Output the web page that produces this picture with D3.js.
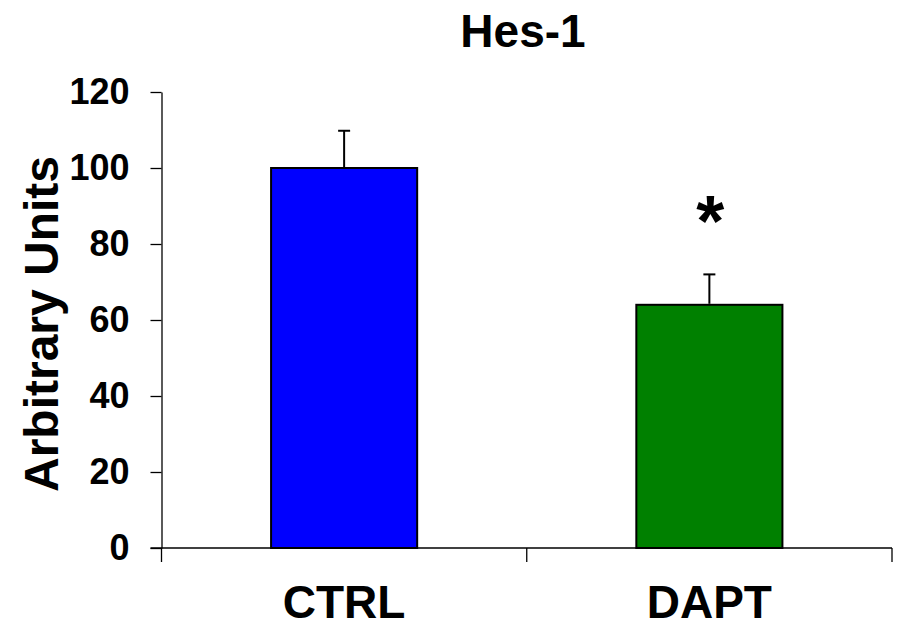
<!DOCTYPE html>
<html>
<head>
<meta charset="utf-8">
<script src="https://cdn.jsdelivr.net/npm/d3@7/dist/d3.min.js"></script>
<style>
	body { margin: 0; background: #fff; }
	text { font-family: Arial, "Liberation Sans", sans-serif; font-weight: bold; fill: #000; }
</style>
</head>
<body>
<svg id="chart" width="901" height="630"></svg>
<script>
var categories = ["CTRL", "DAPT"],
	means = [100, 64],
	errors = [9.8, 8],
	barColors = ["#0000ff", "#008000"],
	yTicks = [0, 20, 40, 60, 80, 100, 120],
	significant = [false, true];

var svg = d3.select("#chart"),
	margin = {top: 92, right: 9, bottom: 82, left: 161.5},
	width = 901 - margin.left - margin.right,
	height = 630 - margin.top - margin.bottom;

var x = d3.scaleBand()
	.domain(categories)
	.range([0, width])
	.padding(0);

var y = d3.scaleLinear()
	.domain([0, 120])
	.range([height, 0]);

var g = svg.append("g").attr("transform", "translate(" + margin.left + "," + margin.top + ")");

// y axis
var yAxis = d3.axisLeft(y)
	.tickValues(yTicks)
	.tickSize(11)
	.tickPadding(21)
	.tickSizeOuter(0);

var gY = g.append("g").attr("class", "axis y").call(yAxis);
gY.select(".domain").attr("stroke", "#000").attr("stroke-width", 1.3);
gY.selectAll(".tick line").attr("stroke", "#000").attr("stroke-width", 1.3);
gY.selectAll(".tick text")
	.style("font-size", "36px")
	.style("font-family", "Arial, 'Liberation Sans', sans-serif")
	.style("font-weight", "bold")
	.attr("fill", "#000");

// x axis, ticks between the categories
var xBounds = [0, width / 2, width];
var gX = g.append("g").attr("class", "axis x").attr("transform", "translate(0," + height + ")");
gX.append("line")
	.attr("x1", -11).attr("x2", width)
	.attr("stroke", "#000").attr("stroke-width", 1.3);
gX.selectAll(".xtick")
	.data(xBounds)
	.enter().append("line")
	.attr("class", "xtick")
	.attr("x1", function(d) { return d; })
	.attr("x2", function(d) { return d; })
	.attr("y1", 0).attr("y2", 14)
	.attr("stroke", "#000").attr("stroke-width", 1.3);
gX.selectAll(".xlabel")
	.data(categories)
	.enter().append("text")
	.attr("class", "xlabel")
	.attr("x", function(d) { return x(d) + x.bandwidth() / 2; })
	.attr("y", 70)
	.attr("text-anchor", "middle")
	.style("font-size", "46px")
	.text(function(d) { return d; });

// bars
var barW = x.bandwidth() * 0.4;
g.selectAll(".bar")
	.data(categories)
	.enter().append("rect")
	.attr("class", "bar")
	.attr("x", function(d) { return x(d) + (x.bandwidth() - barW) / 2; })
	.attr("y", function(d, i) { return y(means[i]); })
	.attr("width", barW)
	.attr("height", function(d, i) { return height - y(means[i]); })
	.attr("fill", function(d, i) { return barColors[i]; })
	.attr("stroke", "#000")
	.attr("stroke-width", 2);

// error bars (upper only)
var err = g.selectAll(".err")
	.data(categories)
	.enter().append("g")
	.attr("class", "err");
err.append("line")
	.attr("x1", function(d) { return x(d) + x.bandwidth() / 2; })
	.attr("x2", function(d) { return x(d) + x.bandwidth() / 2; })
	.attr("y1", function(d, i) { return y(means[i]) - 1; })
	.attr("y2", function(d, i) { return y(means[i] + errors[i]); })
	.attr("stroke", "#000").attr("stroke-width", 2);
err.append("line")
	.attr("x1", function(d) { return x(d) + x.bandwidth() / 2 - 6; })
	.attr("x2", function(d) { return x(d) + x.bandwidth() / 2 + 6; })
	.attr("y1", function(d, i) { return y(means[i] + errors[i]); })
	.attr("y2", function(d, i) { return y(means[i] + errors[i]); })
	.attr("stroke", "#000").attr("stroke-width", 2);

// significance star
g.selectAll(".star")
	.data(categories.filter(function(d, i) { return significant[i]; }))
	.enter().append("text")
	.attr("class", "star")
	.attr("x", function(d) { return x(d) + x.bandwidth() / 2 + 1; })
	.attr("y", function(d) { var i = categories.indexOf(d); return y(means[i] + errors[i]) - 28; })
	.attr("text-anchor", "middle")
	.style("font-size", "72px")
	.text("*");

// title
svg.append("text")
	.attr("x", 523)
	.attr("y", 47)
	.attr("text-anchor", "middle")
	.style("font-size", "46px")
	.text("Hes-1");

// y label
svg.append("text")
	.attr("transform", "translate(58,324) rotate(-90)")
	.attr("text-anchor", "middle")
	.style("font-size", "48px")
	.text("Arbitrary Units");
</script>
</body>
</html>
